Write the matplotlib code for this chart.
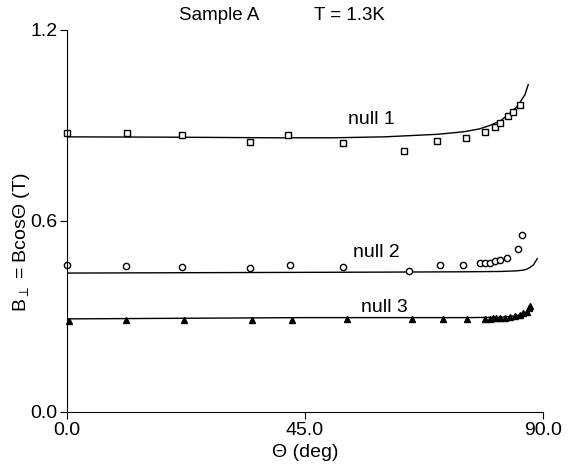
import numpy as np
import matplotlib
matplotlib.use('Agg')
import matplotlib.pyplot as plt

plt.rcParams['font.family'] = ['Liberation Sans', 'DejaVu Sans']
plt.rcParams['mathtext.fontset'] = 'custom'
plt.rcParams['mathtext.rm'] = 'Liberation Sans'
plt.rcParams['mathtext.it'] = 'Liberation Sans'

# null 1 : measured points (squares) and fit line
null1_x = [0.0, 11.4, 21.7, 34.6, 41.7, 52.2, 63.7, 70.0, 75.4, 79.0, 80.9, 81.9, 83.4, 84.4, 85.6]
null1_y = [0.877, 0.875, 0.871, 0.847, 0.870, 0.845, 0.821, 0.852, 0.861, 0.879, 0.895, 0.908, 0.931, 0.941, 0.965]
fit1_x = [0, 20, 40, 50, 60, 70, 75, 78, 80, 82, 83.8, 85.0, 85.6, 86.6, 87.2]
fit1_y = [0.864, 0.863, 0.861, 0.861, 0.864, 0.872, 0.880, 0.889, 0.900, 0.915, 0.939, 0.957, 0.971, 0.997, 1.028]

# null 2 : circles and fit line
null2_x = [0.0, 11.2, 21.8, 34.6, 42.2, 52.2, 64.7, 70.5, 74.9, 78.1, 79.0, 80.0, 80.9, 81.9, 83.2, 85.2, 86.0]
null2_y = [0.462, 0.459, 0.455, 0.451, 0.462, 0.455, 0.443, 0.462, 0.462, 0.468, 0.468, 0.469, 0.473, 0.478, 0.483, 0.512, 0.557]
fit2_x = [0, 40, 60, 75, 82, 85, 86.2, 86.9, 87.6, 88.2, 88.9]
fit2_y = [0.436, 0.438, 0.439, 0.440, 0.441, 0.443, 0.445, 0.448, 0.454, 0.462, 0.481]

# null 3 : triangles and fit line
null3_x = [0.4, 11.2, 22.2, 35.0, 42.5, 52.9, 65.2, 71.0, 75.6, 79.0, 80.0, 80.6, 81.2, 81.9,
           82.8, 83.8, 84.7, 85.6, 86.3, 86.9, 87.4, 87.6]
null3_y = [0.284, 0.287, 0.289, 0.289, 0.289, 0.291, 0.291, 0.291, 0.291, 0.292, 0.292, 0.294, 0.294, 0.296,
           0.296, 0.297, 0.300, 0.303, 0.310, 0.315, 0.325, 0.333]
fit3_x = [0, 45, 75, 82, 85, 86.5, 87.3, 88.0]
fit3_y = [0.292, 0.296, 0.296, 0.297, 0.302, 0.310, 0.318, 0.325]

fig = plt.figure(figsize=(5.68, 4.75), dpi=100)
ax = fig.add_axes([0.118, 0.133, 0.838, 0.804])

# fit lines
ax.plot(fit1_x, fit1_y, color='black', linewidth=1.0)
ax.plot(fit2_x, fit2_y, color='black', linewidth=1.0)
ax.plot(fit3_x, fit3_y, color='black', linewidth=1.0)

# data points
ax.plot(null1_x, null1_y, linestyle='none', marker='s', markersize=5,
        markerfacecolor='white', markeredgecolor='black', markeredgewidth=1.0, clip_on=False)
ax.plot(null2_x, null2_y, linestyle='none', marker='o', markersize=4.5,
        markerfacecolor='white', markeredgecolor='black', markeredgewidth=1.0, clip_on=False)
ax.plot(null3_x, null3_y, linestyle='none', marker='^', markersize=4,
        color='black', clip_on=False)

# labels of the curves
ax.text(57.5, 0.918, 'null 1', fontsize=14, ha='center', va='center')
ax.text(58.4, 0.500, 'null 2', fontsize=14, ha='center', va='center')
ax.text(60.0, 0.327, 'null 3', fontsize=14, ha='center', va='center')

ax.set_xlim(0, 90)
ax.set_ylim(0, 1.2)
ax.set_xticks([0, 45, 90])
ax.set_xticklabels(['0.0', '45.0', '90.0'])
ax.set_yticks([0, 0.6, 1.2])
ax.set_yticklabels(['0.0', '0.6', '1.2'])
ax.tick_params(labelsize=14, direction='out', length=5, width=0.8, pad=2)

ax.spines['top'].set_visible(False)
ax.spines['right'].set_visible(False)

ax.set_xlabel('\u0398 (deg)', fontsize=14, labelpad=4)
ax.set_ylabel(r'B$_{\perp}$ = Bcos$\Theta$ (T)', fontsize=14)
ax.yaxis.set_label_coords(-0.074, 0.445)

fig.text(0.386, 0.968, 'Sample A', fontsize=13.5, ha='center', va='center')
fig.text(0.616, 0.968, 'T = 1.3K', fontsize=13.5, ha='center', va='center')

fig.savefig('out.png', dpi=100)
